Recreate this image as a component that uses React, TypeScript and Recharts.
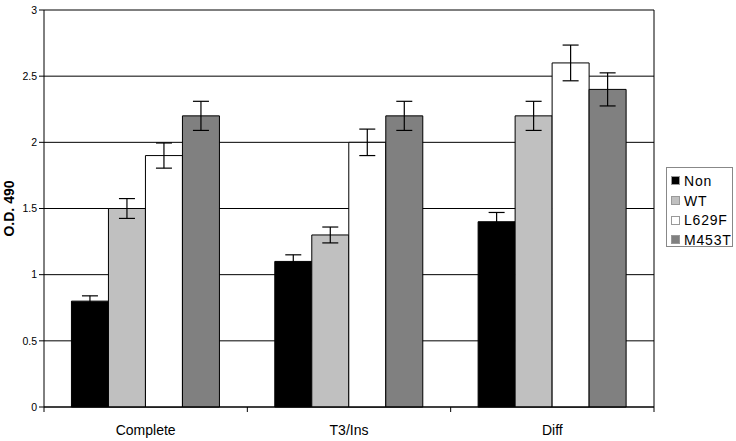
import React from 'react';
import { BarChart, Bar, XAxis, YAxis, CartesianGrid, ErrorBar, Label } from 'recharts';

const categories = ['Complete', 'T3/Ins', 'Diff'];
const nonValues = [0.8, 1.1, 1.4];
const nonErr = [0.04, 0.05, 0.07];
const wtValues = [1.5, 1.3, 2.2];
const wtErr = [0.075, 0.06, 0.11];
const l629fValues = [1.9, 2.0, 2.6];
const l629fErr = [0.095, 0.1, 0.135];
const m453tValues = [2.2, 2.2, 2.4];
const m453tErr = [0.11, 0.11, 0.125];
const yTicks = [0, 0.5, 1, 1.5, 2, 2.5, 3];
const boundTicks = [0, 1, 2, 3];

const series = [
  { key: 'Non', color: '#000000' },
  { key: 'WT', color: '#c0c0c0' },
  { key: 'L629F', color: '#ffffff' },
  { key: 'M453T', color: '#808080' },
];

const data = categories.map((name, i) => ({
  name,
  Non: nonValues[i],
  NonErr: nonErr[i],
  WT: wtValues[i],
  WTErr: wtErr[i],
  L629F: l629fValues[i],
  L629FErr: l629fErr[i],
  M453T: m453tValues[i],
  M453TErr: m453tErr[i],
}));

const font = 'Arial, "Liberation Sans", sans-serif';

// legend drawn outside the chart so it doesn't shrink the plot area
const LegendBox = () => (
  <div
    style={{
      position: 'absolute',
      left: 666,
      top: 167,
      width: 67,
      height: 80,
      boxSizing: 'border-box',
      border: '1px solid #888',
      padding: '3px 0 0 4px',
      fontFamily: font,
      fontSize: 14,
      letterSpacing: 0.8,
      background: '#fff',
    }}
  >
    {series.map((s) => (
      <div key={s.key} style={{ display: 'flex', alignItems: 'center', height: 19.7 }}>
        <span style={{ width: 7, height: 7, background: s.color, border: '1px solid #999', marginRight: 4, display: 'inline-block' }} />
        <span>{s.key}</span>
      </div>
    ))}
  </div>
);

export default function App() {
  return (
    <div style={{ position: 'absolute', left: 0, top: 0, width: 736, height: 441, background: '#fff' }}>
      <BarChart
        width={736}
        height={441}
        data={data}
        margin={{ top: 10, right: 81, left: 0, bottom: 0 }}
        barCategoryGap="13.5%"
        barGap={0}
      >
        <CartesianGrid horizontal vertical={false} stroke="#000" strokeWidth={1} xAxisId="cat" />
        <XAxis
          xAxisId="a_bounds"
          type="number"
          dataKey="Non"
          domain={[0, 3]}
          allowDataOverflow
          ticks={boundTicks}
          tickFormatter={() => ''}
          axisLine={{ stroke: '#000' }}
          tickLine={{ stroke: '#000' }}
          tickSize={5}
          height={1}
        />
        <XAxis
          xAxisId="cat"
          dataKey="name"
          axisLine={false}
          tickLine={false}
          height={33}
          tick={{ fill: '#000', fontSize: 14, fontFamily: font }}
          dy={9}
        />
        <YAxis
          domain={[0, 3]}
          ticks={yTicks}
          width={44}
          axisLine={{ stroke: '#000' }}
          tickLine={{ stroke: '#000' }}
          tickSize={5}
          tick={{ fill: '#000', fontSize: 10.5, fontFamily: font }}
        >
          <Label
            value="O.D. 490"
            angle={-90}
            position="center"
            dx={-13}
            style={{ fontWeight: 'bold', fontSize: 14, fontFamily: font, fill: '#000' }}
          />
        </YAxis>
        <YAxis
          yAxisId="right"
          orientation="right"
          domain={[0, 3]}
          ticks={yTicks}
          width={1}
          tick={false}
          tickLine={false}
          axisLine={{ stroke: '#000' }}
        />
        {series.map((s) => (
          <Bar key={s.key} xAxisId="cat" dataKey={s.key} fill={s.color} stroke="#000" strokeWidth={1} isAnimationActive={false}>
            <ErrorBar dataKey={`${s.key}Err`} width={8} stroke="#000" strokeWidth={1.2} />
          </Bar>
        ))}
      </BarChart>
      <LegendBox />
    </div>
  );
}
